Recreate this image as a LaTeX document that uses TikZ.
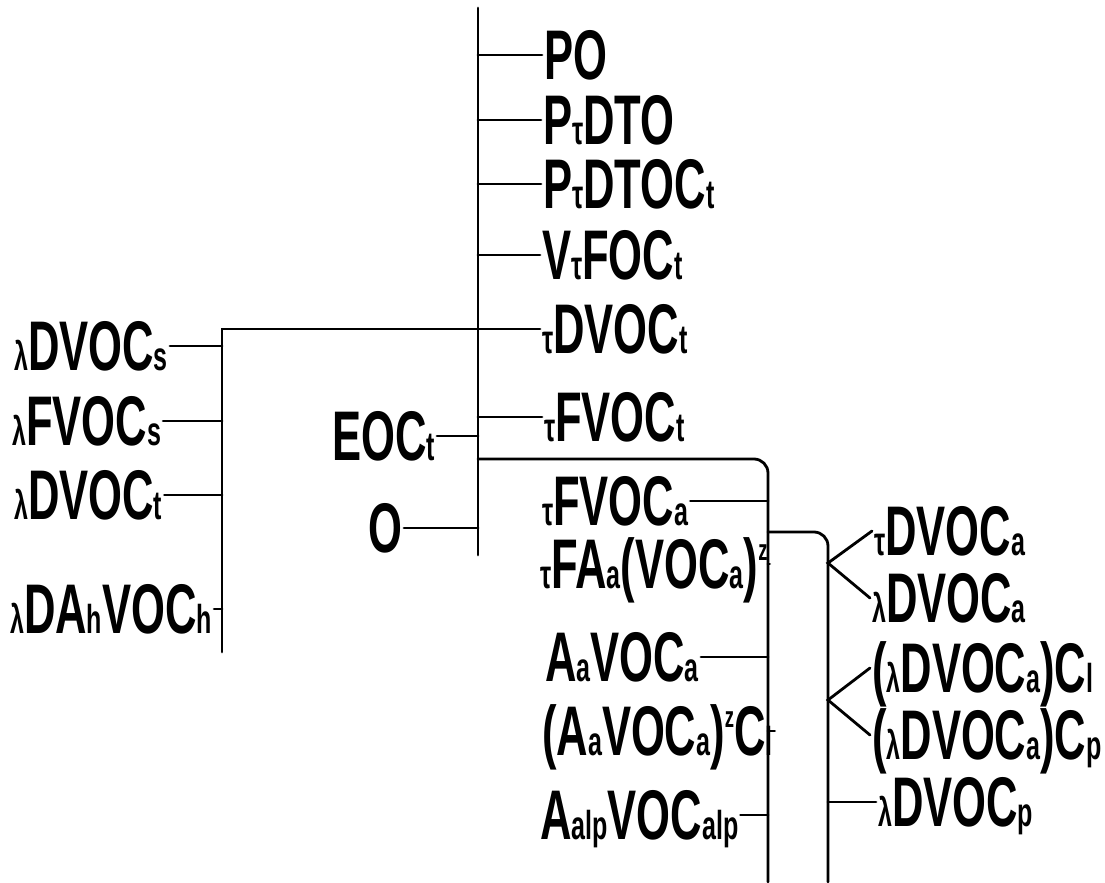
\documentclass[tikz,border=0pt]{standalone}
\usepackage{fontspec}
\setmainfont{Liberation Sans}[FakeStretch=0.62]
\usepackage{tikz}
\usetikzlibrary{positioning}
\newcommand{\lo}[1]{{\fontsize{23}{23}\selectfont #1}}
\newcommand{\hi}[1]{\raisebox{16pt}{\fontsize{17}{17}\selectfont #1}}
\tikzset{
  lbl/.style={anchor=west, inner sep=1pt, text height=28pt, text depth=0pt,
    font=\fontsize{40}{40}\selectfont\bfseries},
  bus/.style={line width=1.6pt, line cap=round}
}
\begin{document}
\begin{tikzpicture}[x=0.02cm, y={(0,-0.02cm)}]
  \useasboundingbox (0,0) rectangle (1105,882);
  % bus points
  \coordinate (top) at (478,8);
  \coordinate (tbot) at (478,555);
  \coordinate (lbot) at (222,652);
  \coordinate (j2) at (478,459);
  \coordinate (b2) at (768,882);
  \coordinate (j3) at (768,532);
  \coordinate (b3) at (828,882);
  \coordinate (f1) at (828,563);
  \coordinate (f2) at (828,700);
  % right of trunk
  \node[lbl] (po) at (542,55) {PO};
  \node[lbl] (pdto) at (541,120) {P\lo{τ}DTO};
  \node[lbl] (pdtoc) at (541,184) {P\lo{τ}DTOC\lo{t}};
  \node[lbl] (vfoc) at (540,255) {V\lo{τ}FOC\lo{t}};
  \node[lbl] (dvoct) at (540,329) {\lo{τ}DVOC\lo{t}};
  \node[lbl] (fvoct) at (542,417) {\lo{τ}FVOC\lo{t}};
  % left of trunk
  \node[lbl, anchor=east] (eoct) at (437,436) {EOC\lo{t}};
  \node[lbl, anchor=east] (o) at (404,528) {O};
  % far left
  \node[lbl] (ldvocs) at (12,346) {\lo{λ}DVOC\lo{s}};
  \node[lbl] (lfvocs) at (10,421) {\lo{λ}FVOC\lo{s}};
  \node[lbl] (ldvoct) at (12,495) {\lo{λ}DVOC\lo{t}};
  \node[lbl] (ldahvoch) at (8,609) {\lo{λ}DA\lo{h}VOC\lo{h}};
  % second level
  \node[lbl] (fvoca) at (540,501) {\lo{τ}FVOC\lo{a}};
  \node[lbl] (fasq) at (538,564) {\lo{τ}FA\lo{a}(VOC\lo{a})\hi{z}};
  \node[lbl] (avoca) at (543,657) {A\lo{a}VOC\lo{a}};
  \node[lbl] (avocl) at (540,731) {(A\lo{a}VOC\lo{a})\hi{z}C\lo{l}};
  \node[lbl] (alp) at (538,815) {A\lo{alp}VOC\lo{alp}};
  % third level
  \node[lbl] (tdvoca) at (872,531) {\lo{τ}DVOC\lo{a}};
  \node[lbl] (ldvoca) at (870,598) {\lo{λ}DVOC\lo{a}};
  \node[lbl] (cl) at (870,668) {(\lo{λ}DVOC\lo{a})C\lo{l}};
  \node[lbl] (cp) at (870,735) {(\lo{λ}DVOC\lo{a})C\lo{p}};
  \node[lbl] (ldvocp) at (876,802) {\lo{λ}DVOC\lo{p}};
  % buses
  \draw[bus] (top) -- (tbot);
  \draw[bus] (lbot) |- (dvoct.west);
  \draw[bus, rounded corners=8] (j2) -| (b2);
  \draw[bus, rounded corners=8] (j3) -| (b3);
  % branches
  \foreach \n in {po,pdto,pdtoc,vfoc,fvoct}
    \draw[bus] (\n.west) -- (\n.west -| top);
  \foreach \n in {eoct,o}
    \draw[bus] (\n.east) -- (\n.east -| top);
  \foreach \n in {ldvocs,lfvocs,ldvoct,ldahvoch}
    \draw[bus] (\n.east) -- (\n.east -| lbot);
  \foreach \n in {fvoca,fasq,avoca,avocl,alp}
    \draw[bus] (\n.east) -- (\n.east -| b2);
  \draw[bus] (tdvoca.west) -- (f1) -- (ldvoca.west);
  \draw[bus] (cl.west) -- (f2) -- (cp.west);
  \draw[bus] (ldvocp.west) -- (ldvocp.west -| b3);
\end{tikzpicture}
\end{document}
